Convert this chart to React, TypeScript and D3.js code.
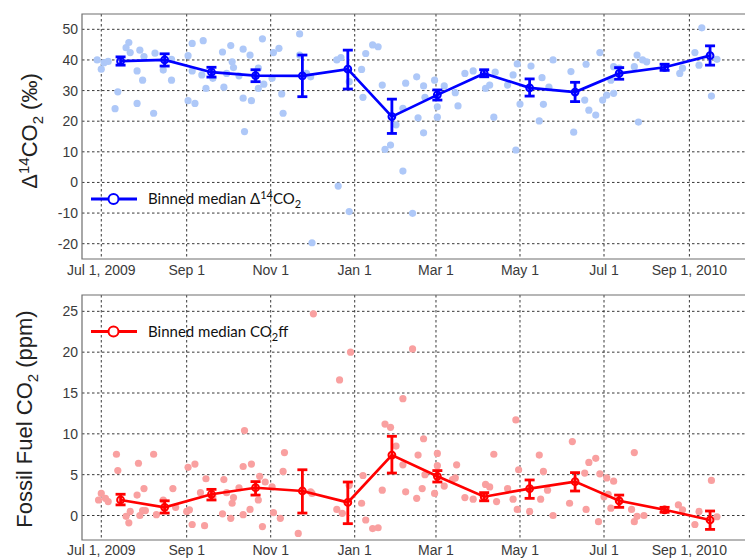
import React from 'react';
import * as d3 from 'd3';

// ---------- DATA ----------
const tickDates = ['2009-07-01', '2009-09-01', '2009-11-01', '2010-01-01', '2010-03-01', '2010-05-01', '2010-07-01', '2010-09-01'];
const tickLabels = ['Jul 1, 2009', 'Sep 1', 'Nov 1', 'Jan 1', 'Mar 1', 'May 1', 'Jul 1', 'Sep 1, 2010'];
const topYTicks = [-20, -10, 0, 10, 20, 30, 40, 50];
const botYTicks = [0, 5, 10, 15, 20, 25];

// days since 2009-07-01
const binDays = [14, 46, 80, 112, 146, 179, 211, 244, 278, 311, 344, 376, 409, 442];

const d14Median = [39.6, 40.0, 36.0, 34.9, 34.8, 37.0, 21.5, 28.6, 35.6, 30.9, 29.5, 35.6, 37.6, 41.4];
const d14Lo = [38.3, 38.0, 34.4, 32.9, 28.0, 30.5, 16.0, 26.9, 34.5, 28.2, 26.4, 33.7, 36.6, 38.3];
const d14Hi = [41.0, 42.0, 37.6, 36.8, 41.6, 43.2, 27.2, 30.2, 36.8, 33.8, 32.7, 37.5, 38.6, 44.6];

const ffMedian = [1.9, 1.0, 2.6, 3.4, 3.0, 1.6, 7.4, 4.8, 2.3, 3.3, 4.15, 1.8, 0.7, -0.55];
const ffLo = [1.3, 0.3, 1.9, 2.5, 0.3, -1.0, 5.2, 4.1, 1.8, 2.1, 3.0, 1.0, 0.4, -1.7];
const ffHi = [2.6, 1.8, 3.2, 4.15, 5.6, 4.1, 9.7, 5.5, 2.8, 4.35, 5.25, 2.5, 1.0, 0.55];

// individual samples: [days since 2009-07-01, value]
const d14Samples: [number, number][] = [
  [-3, 40.0], [0, 37.0], [2, 39.1], [5, 39.5], [18, 44.0], [20, 45.7], [21, 42.4], [12, 29.6], [10, 24.1], [28, 43.2],
  [26, 36.4], [31, 41.1], [30, 33.4], [26, 25.8], [38, 22.6], [39, 42.2], [45, 36.7], [51, 40.2], [51, 33.4], [63, 41.4],
  [66, 45.4], [63, 26.7], [68, 25.8], [66, 36.4], [73, 35.1], [74, 46.3], [76, 30.7], [81, 34.0], [88, 42.6], [89, 31.1],
  [91, 35.6], [94, 44.7], [95, 39.4], [96, 37.5], [100, 34.8], [103, 43.5], [103, 27.5], [104, 16.6], [108, 41.6], [109, 26.7],
  [114, 37.3], [114, 30.7], [117, 46.9], [118, 32.1], [124, 34.0], [125, 42.4], [129, 43.8], [131, 28.9], [132, 22.6],
  [144, 48.5], [144, 41.6], [152, 34.5], [149, 35.6], [153, -19.7], [171, 40.0], [174, 40.8], [172, -1.2], [180, -9.5], [180, 32.9],
  [189, 36.9], [190, 27.8], [192, 42.1], [197, 44.9], [201, 44.3], [204, 31.8], [206, 10.8], [210, 12.2], [214, 18.8], [219, 3.7],
  [219, 24.2], [221, 32.4], [226, -10.1], [229, 34.5], [230, 21.1], [234, 31.5], [234, 16.2], [235, 27.8], [242, 33.4], [244, 24.7],
  [244, 21.3], [249, 31.5], [257, 29.3], [259, 25.0], [264, 35.6], [270, 36.4], [279, 30.7], [282, 31.8], [285, 21.3], [286, 36.0],
  [295, 31.8], [299, 35.1], [302, 38.7], [301, 10.6], [304, 25.6], [312, 38.0], [320, 34.2], [318, 20.1], [321, 25.5], [325, 31.1],
  [328, 40.0], [341, 36.2], [343, 16.4], [351, 26.9], [352, 38.6], [354, 23.6], [359, 22.0], [362, 42.4], [364, 26.9], [367, 28.5],
  [370, 33.4], [372, 37.8], [376, 37.3], [372, 29.1], [387, 37.8], [389, 41.6], [393, 40.0], [396, 39.4], [390, 19.7], [420, 35.6],
  [422, 37.3], [431, 42.4], [434, 38.3], [436, 50.5], [447, 40.2], [443, 28.2],
];

const ffSamples: [number, number][] = [
  [-2, 1.9], [0, 2.7], [3, 2.1], [5, 1.7], [11, 7.5], [12, 5.5], [18, -0.1], [20, -0.9], [21, 0.5], [26, 2.5],
  [27, 6.4], [28, 0.0], [30, 0.6], [32, 0.6], [31, 3.3], [38, 7.5], [40, 0.1], [45, 1.9], [52, 3.3], [54, 1.0],
  [62, 0.5], [64, 0.7], [63, 5.9], [68, 6.3], [66, -1.1], [72, 2.8], [75, -1.25], [76, 4.5], [81, 2.3], [88, 0.2],
  [89, 4.4], [91, 2.8], [94, -0.35], [95, 1.5], [96, 2.2], [100, 3.4], [103, 6.0], [109, 6.3], [104, 10.4], [103, 0.1],
  [108, 0.75], [114, 1.9], [115, 4.8], [119, 4.1], [117, -1.35], [125, 0.35], [130, -0.35], [124, 3.5], [133, 7.7], [132, 5.4],
  [143, -2.2], [152, 2.9], [153, 2.7], [154, 24.7], [171, 0.75], [175, 0.27], [173, 16.6], [181, 20.0], [180, 3.7], [189, 1.5],
  [190, 4.9], [192, -0.55], [197, -1.6], [201, -1.5], [204, 3.1], [206, 11.2], [210, 10.8], [214, 8.5], [219, 14.3], [219, 6.2],
  [221, 2.9], [226, 20.4], [229, 2.1], [230, 7.4], [233, 3.3], [234, 9.4], [235, 5.0], [242, 2.7], [244, 6.1], [244, 7.6],
  [249, 3.6], [255, 4.4], [257, 4.6], [258, 6.2], [264, 2.2], [270, 2.0], [279, 3.8], [282, 3.5], [285, 7.5], [287, 1.7],
  [295, 3.3], [299, 2.0], [301, 11.7], [303, 5.6], [302, 0.75], [311, 0.5], [318, 7.4], [321, 5.4], [319, 2.0], [324, 3.1],
  [328, 0.0], [340, 1.5], [342, 9.05], [351, 5.2], [352, 0.75], [354, 6.5], [359, 7.0], [361, -0.75], [362, 5.1], [367, 4.6],
  [365, 2.3], [368, 2.6], [372, 4.2], [370, 0.9], [385, 0.75], [387, 7.7], [387, -0.75], [389, -0.1], [394, 0.0], [419, 1.3],
  [422, 0.7], [431, -1.1], [434, 0.5], [443, 4.3], [447, -0.15],
];

// ---------- HELPERS ----------
const W = 745;
const H = 559;
const base = Date.UTC(2009, 6, 1);
const dayToDate = (d: number) => new Date(base + d * 86400000);

const x = d3.scaleUtc()
  .domain([new Date(Date.UTC(2009, 5, 17)), new Date(Date.UTC(2010, 9, 15))])
  .range([82, 750]);

const tickFont = "'Liberation Sans', Arial, sans-serif";
const legendFont = "Lato, 'Open Sans', sans-serif";

type PanelProps = {
  top: number;
  bottom: number;
  yDomain: [number, number];
  yTicks: number[];
  samples: [number, number][];
  med: number[];
  lo: number[];
  hi: number[];
  dotColor: string;
  lineColor: string;
  legendY: number;
  legend: React.ReactNode;
  yLabel: React.ReactNode;
  yLabelX: number;
  yLabelY: number;
  xLabelY: number;
};

function Panel(p: PanelProps) {
  const y = d3.scaleLinear().domain(p.yDomain).range([p.bottom, p.top]);
  const left = 82;
  const right = 750;
  const line = d3.line<number>()
    .x((_, i) => x(dayToDate(binDays[i])))
    .y((v) => y(v));
  const cap = 5;
  return (
    <g>
      {/* grid */}
      {tickDates.map((t) => {
        const xx = x(new Date(t + 'T00:00:00Z'));
        return <line key={'vg' + t} x1={xx} x2={xx} y1={p.top} y2={p.bottom} stroke="#222" strokeWidth={0.9} strokeDasharray="2.5,2.5" />;
      })}
      {p.yTicks.map((v) => (
        <line key={'hg' + v} x1={left} x2={right} y1={y(v)} y2={y(v)} stroke="#222" strokeWidth={0.9} strokeDasharray="2.5,2.5" />
      ))}
      {/* samples */}
      {p.samples.map(([d, v], i) => (
        <circle key={'s' + i} cx={x(dayToDate(d))} cy={y(v)} r={3.6} fill={p.dotColor} />
      ))}
      {/* median line */}
      <path d={line(p.med) || ''} fill="none" stroke={p.lineColor} strokeWidth={2.7} />
      {/* error bars */}
      {p.med.map((v, i) => {
        const xx = x(dayToDate(binDays[i]));
        return (
          <g key={'e' + i} stroke={p.lineColor} strokeWidth={2.8}>
            <line x1={xx} x2={xx} y1={y(p.lo[i])} y2={y(p.hi[i])} />
            <line x1={xx - cap} x2={xx + cap} y1={y(p.lo[i])} y2={y(p.lo[i])} />
            <line x1={xx - cap} x2={xx + cap} y1={y(p.hi[i])} y2={y(p.hi[i])} />
            <circle cx={xx} cy={y(v)} r={3.4} fill="none" strokeWidth={2} />
          </g>
        );
      })}
      {/* frame */}
      <path d={`M${right},${p.top}H${left}V${p.bottom}H${right}`} fill="none" stroke="#6e6e6e" strokeWidth={1.2} />
      {/* y tick labels */}
      {p.yTicks.map((v) => (
        <text key={'yt' + v} x={78} y={y(v)} dy="0.36em" textAnchor="end" fontFamily={tickFont} fontSize={14} fill="#3a3a3a">
          {v}
        </text>
      ))}
      {/* x tick labels */}
      {tickDates.map((t, i) => (
        <text key={'xt' + t} x={x(new Date(t + 'T00:00:00Z'))} y={p.xLabelY} textAnchor="middle" fontFamily={tickFont} fontSize={14} fill="#3a3a3a">
          {tickLabels[i]}
        </text>
      ))}
      {/* legend */}
      <g>
        <line x1={91} x2={137} y1={p.legendY} y2={p.legendY} stroke={p.lineColor} strokeWidth={2.8} />
        <circle cx={113.5} cy={p.legendY} r={5} fill="#fff" stroke={p.lineColor} strokeWidth={2} />
        <text x={148} y={p.legendY} dy="0.35em" fontFamily={legendFont} fontSize={15} fill="#111">
          {p.legend}
        </text>
      </g>
      {/* y label */}
      <text
        transform={`translate(${p.yLabelX},${p.yLabelY}) rotate(-90)`}
        textAnchor="middle"
        fontFamily={tickFont}
        fontSize={22}
        fill="#222"
      >
        {p.yLabel}
      </text>
    </g>
  );
}

export default function App() {
  return (
    <svg width={W} height={H} style={{ position: 'absolute', left: 0, top: 0, background: '#fff' }}>
      <rect width={W} height={H} fill="#fff" />
      <Panel
        top={14}
        bottom={259}
        yDomain={[-25, 55]}
        yTicks={topYTicks}
        samples={d14Samples}
        med={d14Median}
        lo={d14Lo}
        hi={d14Hi}
        dotColor="#aec8f8"
        lineColor="#0000ff"
        legendY={199}
        yLabelX={37}
        yLabelY={131}
        xLabelY={275}
        legend={
          <>
            Binned median Δ<tspan dy={-5} fontSize={11}>14</tspan>
            <tspan dy={5}>CO</tspan>
            <tspan dy={4} fontSize={11}>2</tspan>
          </>
        }
        yLabel={
          <>
            Δ<tspan dy={-8} fontSize={15}>14</tspan>
            <tspan dy={8}>CO</tspan>
            <tspan dy={6} fontSize={15}>2</tspan>
            <tspan dy={-6}> (‰)</tspan>
          </>
        }
      />
      <Panel
        top={295}
        bottom={540}
        yDomain={[-3, 27]}
        yTicks={botYTicks}
        samples={ffSamples}
        med={ffMedian}
        lo={ffLo}
        hi={ffHi}
        dotColor="#f9a0a0"
        lineColor="#ff0000"
        legendY={331.5}
        yLabelX={32}
        yLabelY={419}
        xLabelY={555}
        legend={
          <>
            Binned median CO<tspan dy={4} fontSize={11}>2</tspan>
            <tspan dy={-4}>ff</tspan>
          </>
        }
        yLabel={
          <>
            Fossil Fuel CO<tspan dy={6} fontSize={15}>2</tspan>
            <tspan dy={-6}> (ppm)</tspan>
          </>
        }
      />
    </svg>
  );
}
